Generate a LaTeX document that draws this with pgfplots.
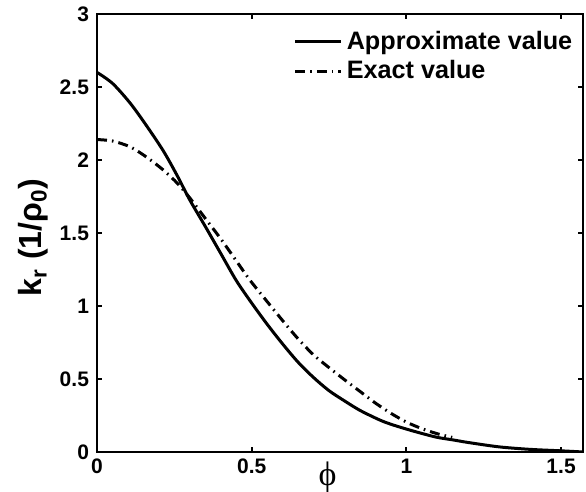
\documentclass[border=0pt]{standalone}
\usepackage{fontspec}
\setmainfont{Liberation Sans}
\newfontfamily\serifgreek{Liberation Serif}
\usepackage{pgfplots}
\pgfplotsset{compat=1.18}
\usetikzlibrary{calc}

\begin{document}
\begin{tikzpicture}
\begin{axis}[
  name=ax,
  scale only axis,
  width=243pt, height=219pt,
  xmin=0, xmax=1.5708, ymin=0, ymax=3,
  xtick={0,0.5,1,1.5}, ytick={0,0.5,...,3},
  tick align=inside, major tick length=2.5pt,
  axis line style={line width=1.2pt}, tick style={line width=1pt, black},
  /pgf/number format/assume math mode=true,
  ticklabel style={font=\bfseries\fontsize{10.5}{12}\selectfont},
  yticklabel style={xshift=-0.5pt},
  xlabel={ϕ},
  xlabel style={font=\serifgreek\fontsize{17}{17}\selectfont, at={(axis cs:0.745,0)},
                anchor=north, yshift=-5pt, inner sep=0pt},
  ylabel={k\textsubscript{r} (1/ρ\textsubscript{0})},
  ylabel style={font=\bfseries\fontsize{16}{18}\selectfont,
                at={(axis description cs:-0.1,0.49)}, anchor=south, inner sep=0pt},
  legend style={at={(axis description cs:0.4,0.975)}, anchor=north west,
                draw=none, fill=none, font=\bfseries\fontsize{12.6}{14}\selectfont,
                row sep=0pt, inner sep=1pt},
  legend cell align=left,
  legend image code/.code={\draw[#1] (0pt,0pt) -- (23pt,0pt);},
]
\addplot[black, line width=1.5pt, smooth] coordinates {
  (0,2.60) (0.05,2.525) (0.107,2.39) (0.16,2.235) (0.215,2.06) (0.26,1.89)
  (0.30,1.726) (0.35,1.545) (0.40,1.36) (0.45,1.175) (0.50,1.02)
  (0.55,0.875) (0.60,0.74) (0.65,0.615) (0.70,0.51) (0.75,0.42)
  (0.80,0.35) (0.85,0.285) (0.913,0.22) (0.95,0.19) (1.0,0.157)
  (1.05,0.127) (1.10,0.10) (1.15,0.083) (1.2,0.065) (1.3,0.035)
  (1.4,0.018) (1.5,0.008) (1.5708,0)
};
\addlegendentry{Approximate value}
\addplot[black, line width=1.5pt, smooth, dash pattern=on 5pt off 2.5pt on 0.8pt off 2.5pt] coordinates {
  (0,2.14) (0.05,2.13) (0.107,2.09) (0.16,2.02) (0.215,1.93) (0.26,1.84)
  (0.30,1.74) (0.35,1.60) (0.40,1.46) (0.45,1.31) (0.494,1.178)
  (0.55,1.03) (0.60,0.90) (0.65,0.775) (0.70,0.665) (0.75,0.578)
  (0.80,0.495) (0.85,0.415) (0.90,0.335) (0.95,0.265) (1.0,0.205)
  (1.05,0.16) (1.10,0.125) (1.148,0.10)
};
\addlegendentry{Exact value}
\end{axis}
\pgfresetboundingbox
\path ($(ax.south west)+(-48.5pt,-20pt)$) rectangle ($(ax.north east)+(1.5pt,7pt)$);
\end{tikzpicture}
\end{document}
